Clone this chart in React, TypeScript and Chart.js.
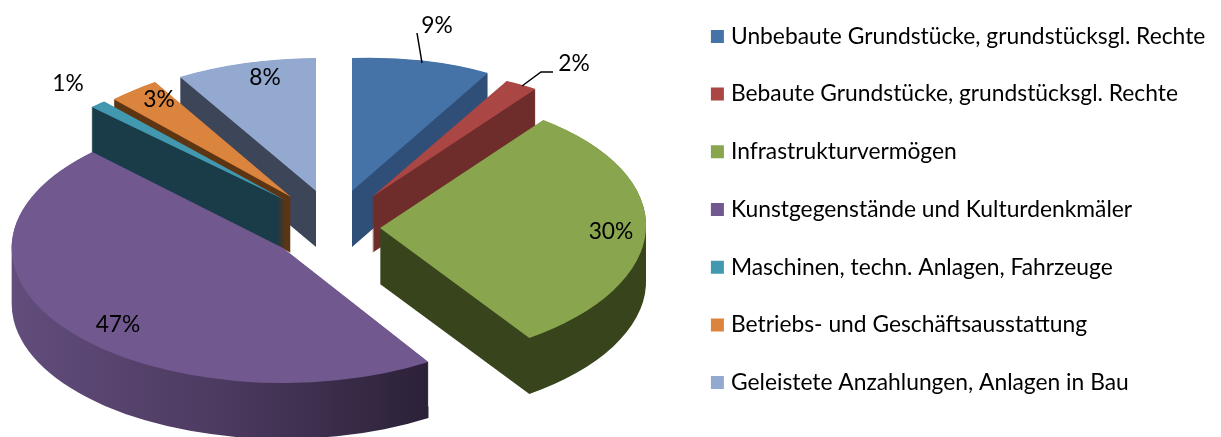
import React, { useEffect, useRef } from "react";
import { Chart, registerables } from "chart.js";

Chart.register(...registerables);

const categories = [
  "Unbebaute Grundstücke, grundstücksgl. Rechte",
  "Bebaute Grundstücke, grundstücksgl. Rechte",
  "Infrastrukturvermögen",
  "Kunstgegenstände und Kulturdenkmäler",
  "Maschinen, techn. Anlagen, Fahrzeuge",
  "Betriebs- und Geschäftsausstattung",
  "Geleistete Anzahlungen, Anlagen in Bau",
];
const shares = [8.8, 2.2, 30, 46.6, 1, 3, 8.4];
const topColors = ["#4572a7", "#aa4643", "#89a54e", "#71588f", "#4198af", "#db843d", "#93a9cf"];
const wallColors = ["#2f4f78", "#6e2c2a", "#38441c", "#4a3a60", "#1a3c48", "#5e3513", "#3d4558"];
// exploded-view shift of each slice from the pie centre
const sliceShift = [
  [18, -35],
  [38, -29],
  [46, 2],
  [-51, 22],
  [-49, -26],
  [-43, -29],
  [-18, -35],
];
// local perspective of each slice: canvas transform a, b, c, d
const sliceForm = [
  [0.958, -0.034, 0, 0.4926],
  [0.95, -0.068, 0, 0.463],
  [0.985, -0.025, 0.03, 0.4985],
  [1.005, 0, 0, 0.5],
  [1.02, 0, 0, 0.484],
  [1, -0.042, 0, 0.517],
  [1, -0.007, 0, 0.4926],
];
const paintOrder = [6, 0, 5, 4, 1, 3, 2];
const labelCenters = [
  [437, 26],
  [574, 64],
  [611, 232],
  [118, 325],
  [68, 84],
  [159, 100],
  [265, 78],
];

const PIE_X = 334;
const PIE_Y = 226;
const DEPTH = 56;
const RADIUS = 270;
const FONT = "Lato";
const FONT_SIZE = 22.8;

const pie3d = {
  id: "pie3d",
  beforeDraw(chart: any) {
    chart.legend.left = 680.35;
    chart.legend.top = -41;
    chart.legend.bottom = 460;
  },
  beforeDatasetsDraw(chart: any) {
    const ctx = chart.ctx;
    const arcs = chart.getDatasetMeta(0).data;
    const place = (target: any, el: any, i: number, drop: number) => {
      const [a, b, c, d] = sliceForm[i];
      target.translate(PIE_X + sliceShift[i][0], PIE_Y + sliceShift[i][1] + drop);
      target.transform(a, b, c, d, 0, 0);
      target.translate(-el.x, -el.y);
    };
    // Collects the arc outlines of all depth layers into one path, so the
    // side wall is filled once as a single shape.
    const collector = new Proxy(ctx, {
      get(t: any, k: any) {
        if (k === "beginPath" || k === "fill" || k === "stroke") return () => {};
        const v = t[k];
        return typeof v === "function" ? v.bind(t) : v;
      },
      set(t: any, k: any, v: any) {
        t[k] = v;
        return true;
      },
    });
    for (const i of paintOrder) {
      const el = arcs[i];
      let wall: any = wallColors[i];
      if (i === 3) {
        wall = ctx.createLinearGradient(12, 0, 430, 0);
        wall.addColorStop(0, "#624d7c");
        wall.addColorStop(0.5, "#4c3a60");
        wall.addColorStop(1, "#2b2137");
      }
      ctx.save();
      ctx.beginPath();
      for (let h = DEPTH; h > 0; h -= 0.5) {
        ctx.save();
        place(ctx, el, i, h);
        el.draw(collector);
        ctx.restore();
      }
      ctx.fillStyle = wall;
      ctx.fill();
      ctx.restore();
      ctx.save();
      place(ctx, el, i, 0);
      el.draw(ctx);
      ctx.restore();
    }
    ctx.save();
    ctx.fillStyle = "#000";
    ctx.font = `${FONT_SIZE}px ${FONT}`;
    ctx.textAlign = "center";
    ctx.textBaseline = "middle";
    shares.forEach((v, i) => ctx.fillText(`${Math.round(v)}%`, labelCenters[i][0], labelCenters[i][1]));
    ctx.strokeStyle = "#000";
    ctx.lineWidth = 1.5;
    ctx.beginPath();
    ctx.moveTo(417, 33);
    ctx.lineTo(422, 63);
    ctx.moveTo(553, 72);
    ctx.lineTo(541, 72);
    ctx.lineTo(522, 86);
    ctx.stroke();
    ctx.restore();
    return false;
  },
};

export default function App() {
  const ref = useRef<HTMLCanvasElement>(null);
  useEffect(() => {
    const chart = new Chart(ref.current!, {
      type: "pie",
      data: {
        labels: categories,
        datasets: [
          {
            data: shares,
            backgroundColor: topColors,
            borderWidth: 0,
            radius: RADIUS,
          } as any,
        ],
      },
      options: {
        responsive: false,
        animation: false,
        layout: { padding: 0 },
        plugins: {
          tooltip: { enabled: false },
          legend: {
            position: "right",
            labels: {
              color: "#000",
              font: { family: FONT, size: FONT_SIZE },
              boxWidth: 4.3,
              boxHeight: 13,
              usePointStyle: true,
              pointStyle: "rect",
              padding: 34.9,
            },
          },
        },
      },
      plugins: [pie3d as any],
    });
    return () => chart.destroy();
  }, []);
  return (
    <div style={{ position: "absolute", left: 0, top: 0, width: 1221, height: 437, overflow: "hidden" }}>
      <canvas ref={ref} width={1221} height={460} style={{ display: "block" }} />
    </div>
  );
}
